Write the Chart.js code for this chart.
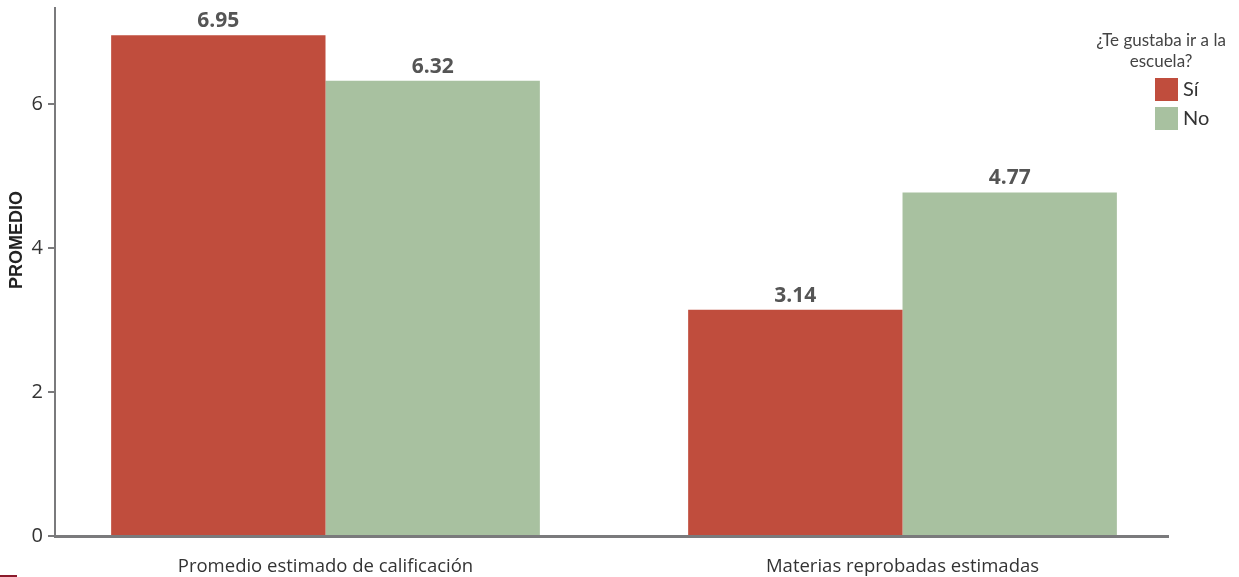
<!DOCTYPE html>
<html>
<head>
<meta charset="utf-8">
<script src="https://cdn.jsdelivr.net/npm/chart.js@4/dist/chart.umd.min.js"></script>
<style>
  html, body { margin: 0; padding: 0; background: #fff; }
  #wrap { position: relative; width: 1239px; height: 577px; }
  #mark { position: absolute; left: 0; top: 575px; width: 17px; height: 2px; background: #8b1a2b; }
</style>
</head>
<body>
<div id="wrap">
  <canvas id="chart" width="1239" height="577"></canvas>
  <div id="mark"></div>
</div>
<script>
// data
const categories = ['Promedio estimado de calificación', 'Materias reprobadas estimadas'];
const seriesNames = ['Sí', 'No'];
const siValues = [6.95, 3.14];
const noValues = [6.32, 4.77];
const yTicks = [0, 2, 4, 6];
const legendTitle = ['¿Te gustaba ir a la', 'escuela?'];
const yTitle = 'PROMEDIO';

const colors = ['#c04d3d', '#a8c1a0'];
const axisColor = '#7a7a7c';

// bold value on top of each bar
const valueLabels = {
  id: 'valueLabels',
  afterDatasetsDraw(chart) {
    const ctx = chart.ctx;
    ctx.save();
    ctx.font = 'bold 21px "Open Sans"';
    ctx.fillStyle = '#555';
    ctx.textAlign = 'center';
    ctx.textBaseline = 'alphabetic';
    chart.data.datasets.forEach((ds, i) => {
      chart.getDatasetMeta(i).data.forEach((bar, j) => {
        ctx.fillText(ds.data[j].y.toFixed(2), bar.x, bar.y - 8);
      });
    });
    ctx.restore();
  }
};

// y axis title, placed a bit above the axis middle as in the original
const axisTitle = {
  id: 'axisTitle',
  afterDraw(chart) {
    const ctx = chart.ctx;
    ctx.save();
    ctx.translate(17, 240);
    ctx.rotate(-Math.PI / 2);
    ctx.font = 'bold 18px "Liberation Sans"';
    ctx.fillStyle = '#222';
    ctx.textAlign = 'center';
    ctx.textBaseline = 'middle';
    ctx.fillText(yTitle, 0, 0);
    ctx.restore();
  }
};

// legend at top right
const sideLegend = {
  id: 'sideLegend',
  afterDraw(chart) {
    const ctx = chart.ctx;
    ctx.save();
    ctx.font = '17px Lato';
    ctx.fillStyle = '#444';
    ctx.textAlign = 'center';
    ctx.textBaseline = 'middle';
    legendTitle.forEach((line, i) => ctx.fillText(line, 1161, 41 + i * 21));
    ctx.font = '20px Lato';
    ctx.textAlign = 'left';
    chart.data.datasets.forEach((ds, i) => {
      const y = 78 + i * 29;
      ctx.fillStyle = ds.backgroundColor;
      ctx.fillRect(1155, y, 23, 23);
      ctx.fillStyle = '#333';
      ctx.fillText(ds.label, 1183, y + 12);
    });
    ctx.restore();
  }
};

new Chart(document.getElementById('chart'), {
  type: 'bar',
  data: {
    datasets: [
      { label: seriesNames[0], data: siValues.map((v, i) => ({ x: i, y: v })), backgroundColor: colors[0] },
      { label: seriesNames[1], data: noValues.map((v, i) => ({ x: i, y: v })), backgroundColor: colors[1] }
    ]
  },
  options: {
    responsive: false,
    devicePixelRatio: 1,
    animation: false,
    categoryPercentage: 0.743,
    barPercentage: 1,
    layout: { padding: { top: 8, right: 71, left: 0, bottom: 0 } },
    plugins: { legend: { display: false }, tooltip: { enabled: false } },
    scales: {
      x: {
        type: 'linear',
        offset: false,
        min: -0.4688,
        max: 1.4601,
        afterBuildTicks: s => { s.ticks = categories.map((c, i) => ({ value: i })); },
        afterFit: s => { s.height = 41; },
        grid: { display: false, drawTicks: false },
        border: { display: true, color: axisColor, width: 3 },
        ticks: {
          callback: v => categories[v],
          color: '#333',
          font: { family: 'Open Sans', size: 18.5 },
          padding: 20,
          maxRotation: 0,
          autoSkip: false
        }
      },
      y: {
        min: 0,
        max: 7.33,
        afterBuildTicks: s => { s.ticks = yTicks.map(v => ({ value: v })); },
        afterFit: s => { s.width = 55; s.paddingTop = 0; s.paddingBottom = 0; },
        grid: { display: true, drawOnChartArea: false, drawTicks: true, tickLength: 7, color: axisColor, lineWidth: 2 },
        border: { display: true, color: axisColor, width: 2 },
        ticks: {
          color: '#333',
          font: { family: 'Open Sans', size: 20 },
          padding: 5
        }
      }
    }
  },
  plugins: [valueLabels, axisTitle, sideLegend]
});
</script>
</body>
</html>
